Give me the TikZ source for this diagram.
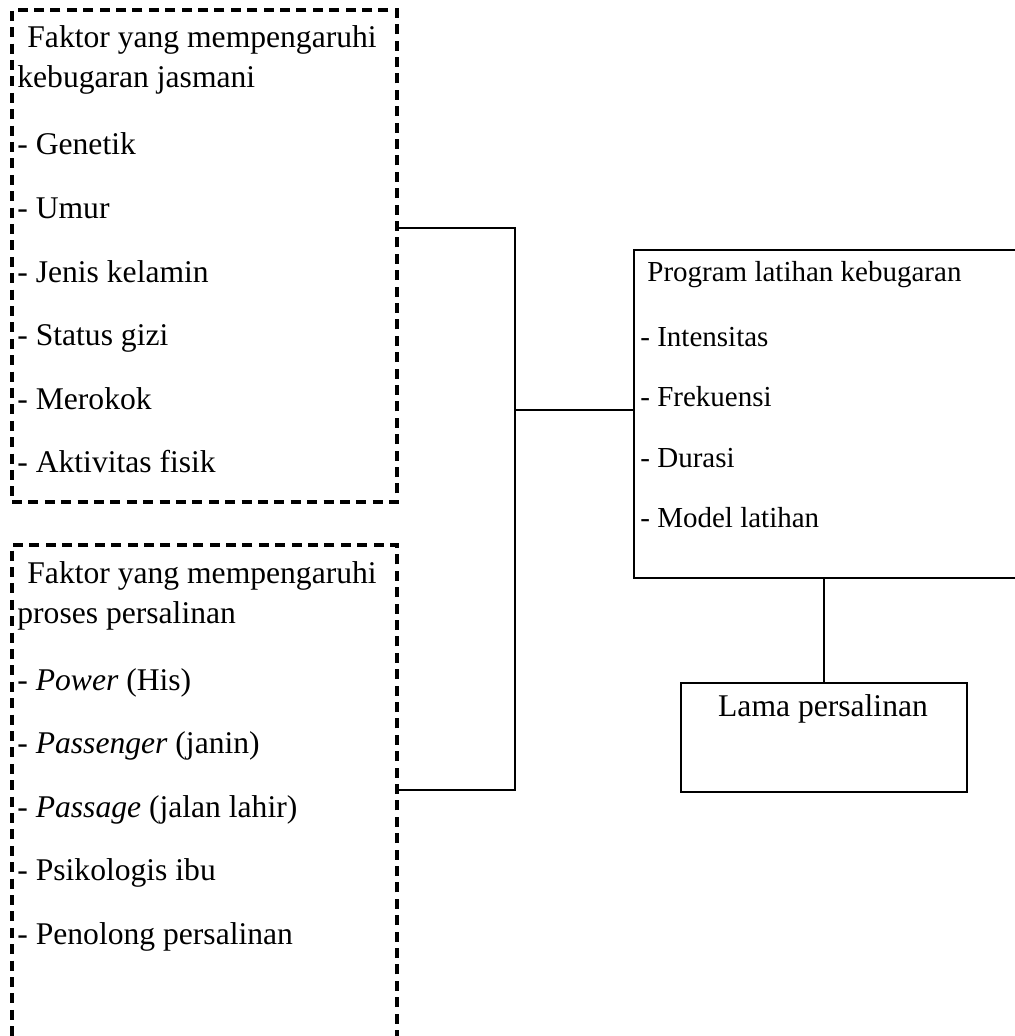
\documentclass[tikz,border=0pt]{standalone}
\usepackage{fontspec}
\setmainfont{Liberation Serif}
\begin{document}
\begin{tikzpicture}[x=0.5pt, y=-0.5pt,
  dashbox/.style = {shape=rectangle, draw, line width=1.6pt, dash pattern=on 5pt off 3.2pt, inner sep=0pt},
  solidbox/.style = {shape=rectangle, draw, line width=1.1pt, inner sep=0pt},
  bigtext/.style = {anchor=base west, inner sep=0pt, font=\fontsize{15.8}{19}\selectfont},
  smalltext/.style = {anchor=base west, inner sep=0pt, font=\fontsize{14.5}{17}\selectfont},
  link/.style = {draw, line width=1pt}]
\useasboundingbox (0,0) rectangle (1014,1036);
% kotak faktor kebugaran jasmani
\node[dashbox, minimum width=192.5pt, minimum height=246pt] (kebugaran) at (204.5,256) {};
\node[bigtext] (kb-judul1) at (27,48) {Faktor yang mempengaruhi};
\node[bigtext] (kb-judul2) at (17,88) {kebugaran jasmani};
\foreach \faktor [count=\i from 0] in {Genetik, Umur, Jenis kelamin, Status gizi, Merokok, Aktivitas fisik}
  \node[bigtext] (kb-\i) at (17,{155+63.6*\i}) {- \faktor};
% kotak faktor proses persalinan
\node[dashbox, minimum width=192.5pt, minimum height=260pt] (persalinan) at (204.5,805) {};
\node[bigtext] (ps-judul1) at (27,583) {Faktor yang mempengaruhi};
\node[bigtext] (ps-judul2) at (17,623) {proses persalinan};
\foreach \faktor [count=\i from 0] in {{\textit{Power} (His)}, {\textit{Passenger} (janin)}, {\textit{Passage} (jalan lahir)}, Psikologis ibu, Penolong persalinan}
  \node[bigtext] (ps-\i) at (17,{690+63.6*\i}) {- \faktor};
% program latihan
\node[solidbox, minimum width=198pt, minimum height=164pt] (program) at (832,414) {};
\node[smalltext] (pr-judul) at (647,282) {Program latihan kebugaran};
\foreach \faktor [count=\i from 0] in {Intensitas, Frekuensi, Durasi, Model latihan}
  \node[smalltext] (pr-\i) at (640,{347+60*\i}) {- \faktor};
% hasil
\node[solidbox, line width=1.4pt, minimum width=143pt, minimum height=54.5pt] (lama) at (824,737.5) {};
\node[bigtext, anchor=base] (lama-teks) at (823,716) {Lama persalinan};
% garis penghubung
\coordinate (simpul) at (515,410);
\path[link] ([yshift=-110pt]kebugaran.north east) -| (simpul) |- ([yshift=-123.5pt]persalinan.north east);
\path[link] (simpul) -- (simpul -| program.west);
\path[link] (lama.north |- program.south) -- (lama.north);
\end{tikzpicture}
\end{document}
